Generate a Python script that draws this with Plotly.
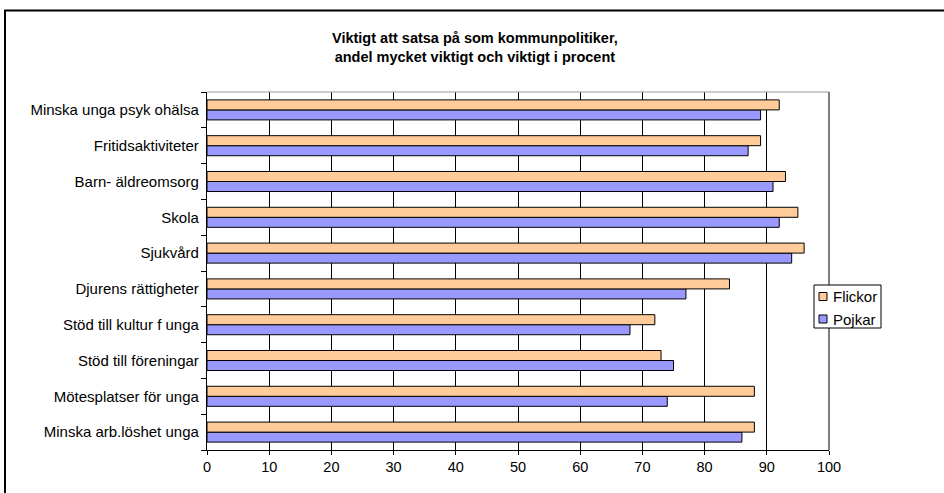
import plotly.graph_objects as go

categories = [
    "Minska arb.löshet unga",
    "Mötesplatser för unga",
    "Stöd till föreningar",
    "Stöd till kultur f unga",
    "Djurens rättigheter",
    "Sjukvård",
    "Skola",
    "Barn- äldreomsorg",
    "Fritidsaktiviteter",
    "Minska unga psyk ohälsa",
]
flickor = [88, 88, 73, 72, 84, 96, 95, 93, 89, 92]
pojkar = [86, 74, 75, 68, 77, 94, 92, 91, 87, 89]
x_ticks = [0, 10, 20, 30, 40, 50, 60, 70, 80, 90, 100]
series_names = ["Flickor", "Pojkar"]
series_colors = ["#FFCC99", "#9999FF"]

FONT = "Liberation Sans, Arial, sans-serif"

fig = go.Figure()
fig.add_trace(go.Bar(
    y=categories, x=pojkar, name=series_names[1], orientation="h",
    marker=dict(color=series_colors[1], line=dict(color="#000000", width=1)),
))
fig.add_trace(go.Bar(
    y=categories, x=flickor, name=series_names[0], orientation="h",
    marker=dict(color=series_colors[0], line=dict(color="#000000", width=1)),
))

L, R, T, B = 207, 829, 92, 450
W, H = 944, 493

def px(x):
    return (x - L) / (R - L)

def py(y):
    return (B - y) / (B - T)

shapes = [
    # plot-area top border (grey) and right-edge gridline
    dict(type="line", xref="paper", yref="paper", x0=0, x1=1,
         y0=1, y1=1, line=dict(color="#999999", width=1)),
    dict(type="line", xref="paper", yref="paper", x0=1, x1=1,
         y0=0, y1=1, line=dict(color="#000000", width=1)),
    # outer chart border
    dict(type="rect", xref="paper", yref="paper",
         x0=px(5), x1=px(1000), y0=py(560), y1=py(10.5),
         line=dict(color="black", width=2), fillcolor="rgba(0,0,0,0)"),
    # legend box
    dict(type="rect", xref="paper", yref="paper", layer="above",
         x0=px(814), x1=px(881), y0=py(328), y1=py(285),
         line=dict(color="#000000", width=1), fillcolor="white"),
]
annotations = [
    dict(text="<b>Viktigt att satsa på som kommunpolitiker,<br>andel mycket viktigt och viktigt i procent</b>",
         xref="paper", yref="paper", x=px(475), y=py(47),
         xanchor="center", yanchor="middle", showarrow=False,
         font=dict(family=FONT, size=14.5, color="black")),
]
for i, (name, col) in enumerate(zip(series_names, series_colors)):
    cy = 296.5 + i * 22.5
    shapes.append(dict(type="rect", xref="paper", yref="paper", layer="above",
                       x0=px(819), x1=px(827), y0=py(cy + 4), y1=py(cy - 4),
                       line=dict(color="black", width=1), fillcolor=col))
    annotations.append(dict(text=name, xref="paper", yref="paper",
                            x=px(831), y=py(cy), xanchor="left", yanchor="middle",
                            showarrow=False,
                            font=dict(family=FONT, size=15, color="black")))

fig.update_layout(
    width=W, height=H,
    margin=dict(l=L, r=W - R, t=T, b=H - B),
    paper_bgcolor="white", plot_bgcolor="white",
    barmode="group", bargap=0.44, bargroupgap=0,
    font=dict(family=FONT, size=15, color="black"),
    showlegend=False,
    xaxis=dict(
        range=[0, 100], tickvals=x_ticks, showgrid=True,
        gridcolor="#000000", gridwidth=1, zeroline=False,
        showline=True, linecolor="#000000", linewidth=1,
        ticks="outside", ticklen=4, tickcolor="#000000",
        tickfont=dict(family=FONT, size=14.5, color="black"),
    ),
    yaxis=dict(
        categoryorder="array", categoryarray=categories,
        showline=True, linecolor="#000000", linewidth=1,
        ticks="outside", ticklen=5, tickcolor="#000000",
        tickson="boundaries", showgrid=False,
        tickfont=dict(family=FONT, size=15, color="black"),
        ticksuffix=" ",
    ),
    shapes=shapes,
    annotations=annotations,
)

fig.write_html("out.html", config={"displayModeBar": False},
               post_script="document.body.style.margin='0';")
